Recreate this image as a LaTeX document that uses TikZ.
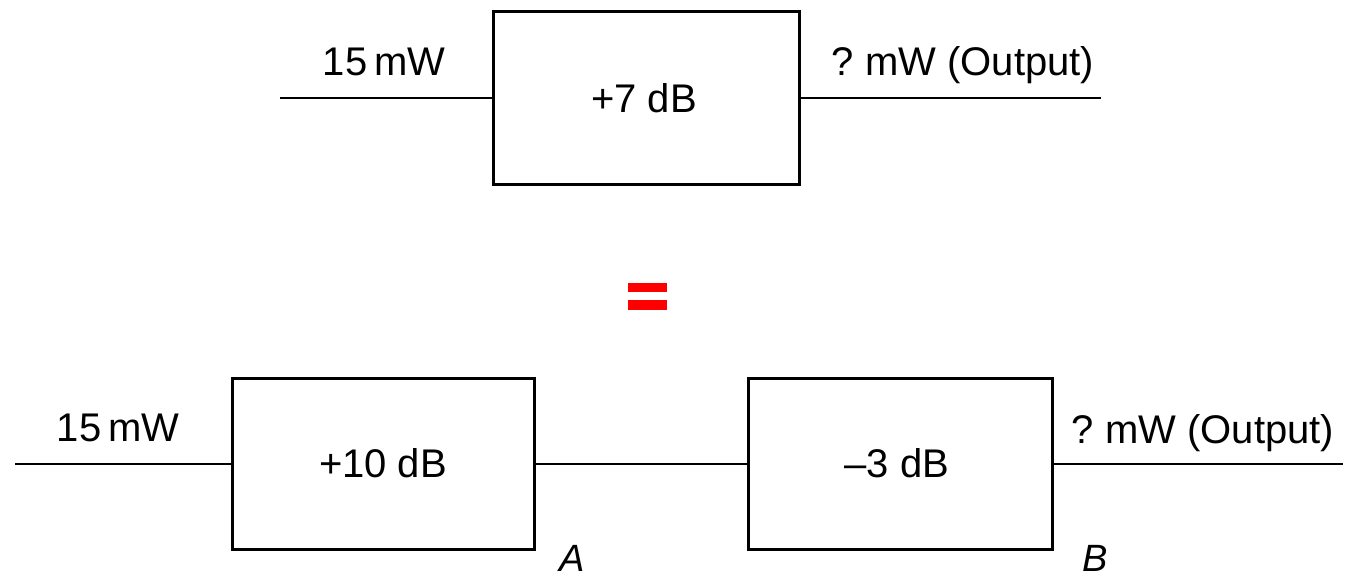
\documentclass[tikz,border=0pt]{standalone}
\usepackage{fontspec}
\setmainfont{Liberation Sans}
\begin{document}
\begin{tikzpicture}[x=1pt,y=-1pt,
  blk/.style={draw=black,line width=2.6pt,inner sep=0pt,anchor=north west},
  wire/.style={line width=2.2pt},
  lbl/.style={anchor=base,inner sep=0pt,font=\fontsize{40}{48}\selectfont},
  ilbl/.style={anchor=base,inner sep=0pt,font=\fontsize{38}{46}\selectfont\itshape}]
\useasboundingbox (0,0) rectangle (1351,577);
% top
\node[blk,minimum width=306pt,minimum height=173pt] (g7) at (492,10) {};
\node[lbl] (t7) at (644,113) {+7 dB};
\coordinate (tin) at (280,98);
\coordinate (tout) at (1101,98);
\draw[wire] (tin) -- (tin -| g7.west);
\draw[wire] (tout -| g7.east) -- (tout);
\node[lbl] (tinl) at (384,76) {15\,mW};
\node[lbl] (toutl) at (963,76) {?\ mW (Output)};
% equals
\fill[red] (628,283) rectangle (667,292);
\fill[red] (628,300) rectangle (667,310);
% bottom
\node[blk,minimum width=302pt,minimum height=171pt] (g10) at (231,377) {};
\node[blk,minimum width=304pt,minimum height=171pt] (g3) at (747,377) {};
\node[lbl] (t10) at (383,477) {+10 dB};
\node[lbl] (t3) at (897,477) {–3 dB};
\coordinate (bin) at (15,464);
\coordinate (bout) at (1343,464);
\draw[wire] (bin) -- (bin -| g10.west);
\draw[wire] (bin -| g10.east) -- (bin -| g3.west);
\draw[wire] (bout -| g3.east) -- (bout);
\node[lbl] (binl) at (118,441) {15\,mW};
\node[lbl] (boutl) at (1203,443) {?\ mW (Output)};
\node[ilbl] (la) at (572,571) {A};
\node[ilbl] (lb) at (1095,571) {B};
\end{tikzpicture}
\end{document}
